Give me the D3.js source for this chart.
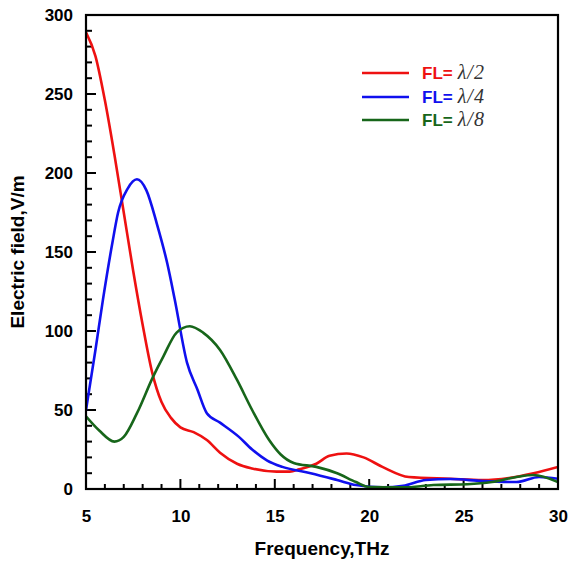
<!DOCTYPE html>
<html><head><meta charset="utf-8">
<script src="https://cdn.jsdelivr.net/npm/d3@7"></script>
<style>body{margin:0;background:#fff}svg{display:block}</style>
</head><body>
<svg id="c" width="570" height="562"></svg>
<script>
const seriesNames = ["\u03BB/2", "\u03BB/4", "\u03BB/8"];
const seriesColors = ["#ee1111", "#1010ee", "#17661a"];
const redF = [5.0,5.5,6.0,6.5,7.0,7.5,8.0,8.5,9.0,9.5,10.0,10.7,11.4,12.1,13.0,13.8,15.1,15.8,16.3,17.2,17.9,18.8,19.7,20.7,22.1,24.3,26.0,27.4,28.7,30.0];
const redV = [289,274,246,212,175,138,104,74,55,45,39,36,31,23,16,13,11,11,12.5,16,21,22.5,20,14,7.6,6.5,5.7,7,10,14];
const blueF = [5.0,5.5,5.9,6.4,6.7,7.2,7.7,8.2,8.75,9.3,9.7,10.35,10.9,11.4,12.1,13.1,13.8,14.6,15.4,16.9,18.3,19.3,20.7,21.8,23.0,24.3,26.0,27.8,29.0,30.0];
const blueV = [50,88,120,156,175,190,196,189,168,143,120,80,63,48,42,33,25,18,14,10,5.7,2.5,1,2,5.7,6.3,5,4.4,7.6,6.5];
const greenF = [5.0,5.7,6.5,7.0,7.7,8.55,9.1,9.8,10.5,11.2,12.1,13.0,13.8,14.7,15.3,16.0,17.2,18.3,19.3,20.0,21.8,23.4,25.2,26.5,27.8,28.7,30.0];
const greenV = [46,37,30,33,48,71,84,99,103,99,88,69,50,31,22,16.5,14,10,4.4,1.3,1,2.5,3,4.4,7.6,8.9,4.4];
const xTicks = [5,10,15,20,25,30];
const yTicks = [0,50,100,150,200,250,300];

const svg = d3.select("#c");
const L = 86, R = 558, T = 15, B = 489;
const x = d3.scaleLinear().domain([5,30]).range([L,R]);
const y = d3.scaleLinear().domain([0,300]).range([B,T]);

const font = "'Liberation Sans', Arial, sans-serif";

const g = svg.append("g");
d3.range(5,31,1).forEach(v=>{
  const major = v%5===0;
  g.append("line").attr("x1",x(v)).attr("x2",x(v)).attr("y1",B).attr("y2",B-(major?10:5))
   .attr("stroke","#000").attr("stroke-width",2);
});
d3.range(0,301,10).forEach(v=>{
  const major = v%50===0;
  g.append("line").attr("x1",L).attr("x2",L+(major?10:6)).attr("y1",y(v)).attr("y2",y(v))
   .attr("stroke","#000").attr("stroke-width",2);
});

const xa = svg.append("g").attr("transform",`translate(0,${B})`)
  .call(d3.axisBottom(x).tickValues(xTicks).tickSize(0).tickPadding(21).tickFormat(d3.format("d")));
const ya = svg.append("g").attr("transform",`translate(${L},0)`)
  .call(d3.axisLeft(y).tickValues(yTicks).tickSize(0).tickPadding(13).tickFormat(d3.format("d")));
[xa,ya].forEach(a=>{
  a.select(".domain").remove();
  a.selectAll("text").attr("font-family",font).attr("font-weight","bold").attr("font-size",17).attr("fill","#000");
});

svg.append("clipPath").attr("id","clp").append("rect").attr("x",L).attr("y",T).attr("width",R-L).attr("height",B-T);
const line = d3.line().x(d=>x(d[0])).y(d=>y(d[1])).curve(d3.curveMonotoneX);
const data = [d3.zip(redF,redV), d3.zip(blueF,blueV), d3.zip(greenF,greenV)];
data.forEach((d,i)=>{
  svg.append("path").attr("d",line(d)).attr("fill","none").attr("stroke",seriesColors[i])
    .attr("stroke-width",2.6).attr("clip-path","url(#clp)");
});

svg.append("rect").attr("x",L).attr("y",T).attr("width",R-L).attr("height",B-T)
  .attr("fill","none").attr("stroke","#000").attr("stroke-width",2.2);

const ly = [73,97,120];
seriesNames.forEach((n,i)=>{
  svg.append("line").attr("x1",362).attr("x2",409).attr("y1",ly[i]).attr("y2",ly[i])
    .attr("stroke",seriesColors[i]).attr("stroke-width",2.6);
  const t = svg.append("text").attr("x",422).attr("y",ly[i]+6).attr("font-size",17);
  t.append("tspan").attr("font-family",font).attr("font-weight","bold").attr("fill",seriesColors[i]).text("FL=");
  t.append("tspan").attr("dx",5).attr("font-family","'Liberation Serif','DejaVu Serif',serif").attr("font-style","italic")
    .attr("fill","#333").attr("font-size",20).attr("letter-spacing",1).text(n);
});

svg.append("text").attr("x",322).attr("y",555).attr("text-anchor","middle")
  .attr("font-family",font).attr("font-weight","bold").attr("font-size",19).text("Frequency,THz");
svg.append("text").attr("transform","translate(24,252) rotate(-90)").attr("text-anchor","middle")
  .attr("font-family",font).attr("font-weight","bold").attr("font-size",19).text("Electric field,V/m");
</script>
</body></html>
